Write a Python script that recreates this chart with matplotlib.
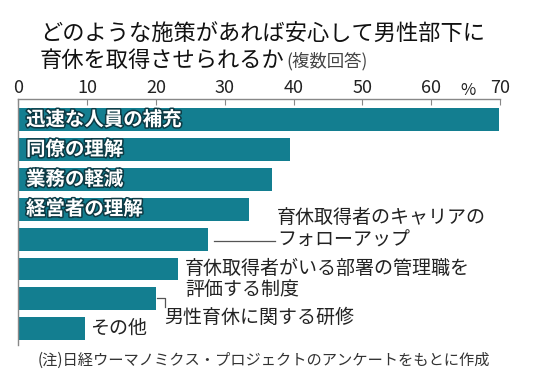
import numpy as np
import matplotlib
matplotlib.use('Agg')
import matplotlib.pyplot as plt
import matplotlib.patheffects as pe

plt.rcParams['font.family'] = ['Noto Sans CJK JP', 'DejaVu Sans']

# data (%)
categories = ['迅速な人員の補充', '同僚の理解', '業務の軽減', '経営者の理解',
              '育休取得者のキャリアのフォローアップ',
              '育休取得者がいる部署の管理職を評価する制度',
              '男性育休に関する研修', 'その他']
values = [69.8, 39.5, 36.8, 33.5, 27.6, 23.2, 20.0, 9.7]
ticks = [0, 10, 20, 30, 40, 50, 60, 70]

bar_color = '#137e90'
line_color = '#888888'
text_color = '#222222'

fig = plt.figure(figsize=(5.39, 3.71), dpi=100)
ax = fig.add_axes([0.0343, 0.070, 0.8933, 0.6645])

y = np.arange(len(values))
ax.barh(y, values, height=0.77, color=bar_color)

ax.set_xlim(0, 70)
ax.set_ylim(7.55, -0.72)

for s in ['right', 'bottom']:
    ax.spines[s].set_visible(False)
for s in ['top', 'left']:
    ax.spines[s].set_color(line_color)
    ax.spines[s].set_linewidth(1.0)

ax.xaxis.tick_top()
ax.set_xticks(ticks)
ax.set_xticklabels([str(t) for t in ticks])
ax.tick_params(axis='x', direction='in', length=4, color=line_color,
               labelsize=13, labelcolor=text_color, pad=1)
ax.set_yticks([])
ax.text(65.4, -0.72, '%', fontsize=12, color=text_color,
        ha='center', va='bottom', transform=ax.transData)

# labels inside bars
outline = [pe.withStroke(linewidth=2.2, foreground='#0d3a44')]
for i in range(4):
    ax.text(1.1, y[i], categories[i], color='white', fontsize=14,
            fontweight='bold', ha='left', va='center', path_effects=outline)

# labels outside bars
fs = 13.7
ax.text(37.6, 3.26, '育休取得者のキャリアの', fontsize=fs, color=text_color,
        ha='left', va='center')
ax.text(37.6, 4.03, 'フォローアップ', fontsize=fs, color=text_color,
        ha='left', va='center')
ax.plot([28.4, 37.3], [4.06, 4.06], color='#555555', lw=0.9)

ax.text(24.2, 4.97, '育休取得者がいる部署の管理職を', fontsize=fs,
        color=text_color, ha='left', va='center')
ax.text(24.2, 5.70, '評価する制度', fontsize=fs, color=text_color,
        ha='left', va='center')

ax.plot([20.2, 21.3, 21.3], [5.97, 5.97, 6.27], color='#555555', lw=0.9)
ax.text(21.2, 6.64, '男性育休に関する研修', fontsize=fs, color=text_color,
        ha='left', va='center')

ax.text(10.4, 6.98, 'その他', fontsize=fs, color=text_color,
        ha='left', va='center')

# title
fig.text(0.074, 0.906, 'どのような施策があれば安心して男性部下に', fontsize=16,
         color='#111111', ha='left', va='center')
fig.text(0.074, 0.838, '育休を取得させられるか', fontsize=16,
         color='#111111', ha='left', va='center')
fig.text(0.532, 0.836, '(複数回答)', fontsize=12.5, color='#444444',
         ha='left', va='center')

fig.text(0.070, 0.030, '(注)日経ウーマノミクス・プロジェクトのアンケートをもとに作成',
         fontsize=11, color='#333333', ha='left', va='center')

fig.savefig('out.png', dpi=100)
